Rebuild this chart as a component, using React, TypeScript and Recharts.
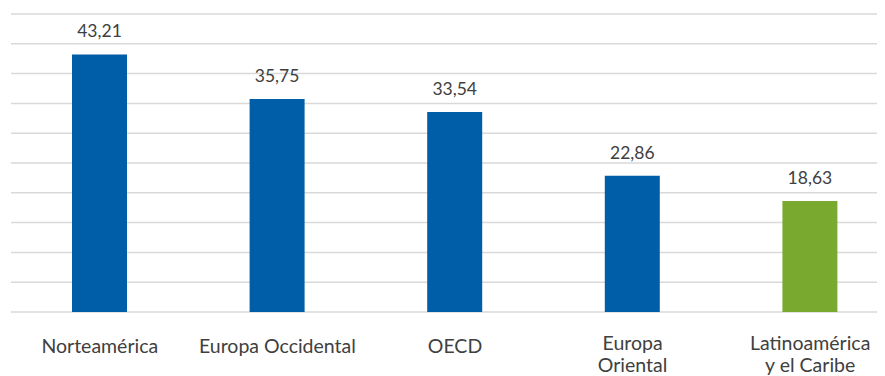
import React from "react";
import { BarChart, Bar, XAxis, YAxis, CartesianGrid, LabelList, Cell } from "recharts";

const categories = ["Norteamérica", "Europa Occidental", "OECD", "Europa Oriental", "Latinoamérica y el Caribe"];
const categoryLines: string[][] = [
  ["Norteamérica"],
  ["Europa Occidental"],
  ["OECD"],
  ["Europa", "Oriental"],
  ["Latinoamérica", "y el Caribe"],
];
const values = [43.21, 35.75, 33.54, 22.86, 18.63];
const barColors = ["#005ea8", "#005ea8", "#005ea8", "#005ea8", "#79aa2f"];
const yTicks = [0, 5, 10, 15, 20, 25, 30, 35, 40, 45, 50];

const data = categories.map((c, i) => ({ name: c, value: values[i] }));

const FONT = "Lato, 'Open Sans', sans-serif";

const CategoryTick = (props: any) => {
  const { x, y, payload } = props;
  const idx = categories.indexOf(payload.value);
  const lines = categoryLines[idx] || [payload.value];
  const single = lines.length === 1;
  return (
    <g transform={`translate(${x},${y})`}>
      {lines.map((l, i) => (
        <text
          key={i}
          x={0}
          y={(single ? 33 : 30) + i * 22}
          textAnchor="middle"
          fill="#404040"
          fontSize={19.5}
          fontFamily={FONT}
        >
          {l}
        </text>
      ))}
    </g>
  );
};

const fmt = (v: any) => Number(v).toFixed(2).replace(".", ",");

export default function App() {
  return (
    <div style={{ width: 877, height: 368, overflow: "hidden" }}>
      <BarChart
        width={891}
        height={368}
        data={data}
        margin={{ top: 6, right: 0, left: 3, bottom: 0 }}
      >
        <CartesianGrid vertical={false} stroke="#d9d9d9" strokeWidth={1.5} />
        <YAxis hide domain={[0, 50]} ticks={yTicks} />
        <XAxis
          dataKey="name"
          axisLine={false}
          tickLine={false}
          height={64}
          interval={0}
          tick={<CategoryTick />}
        />
        <Bar dataKey="value" barSize={55} isAnimationActive={false}>
          {data.map((d, i) => (
            <Cell key={i} fill={barColors[i]} />
          ))}
          <LabelList
            dataKey="value"
            position="top"
            offset={17}
            formatter={fmt}
            fill="#404040"
            fontSize={17.5}
            fontFamily={FONT}
          />
        </Bar>
      </BarChart>
    </div>
  );
}
